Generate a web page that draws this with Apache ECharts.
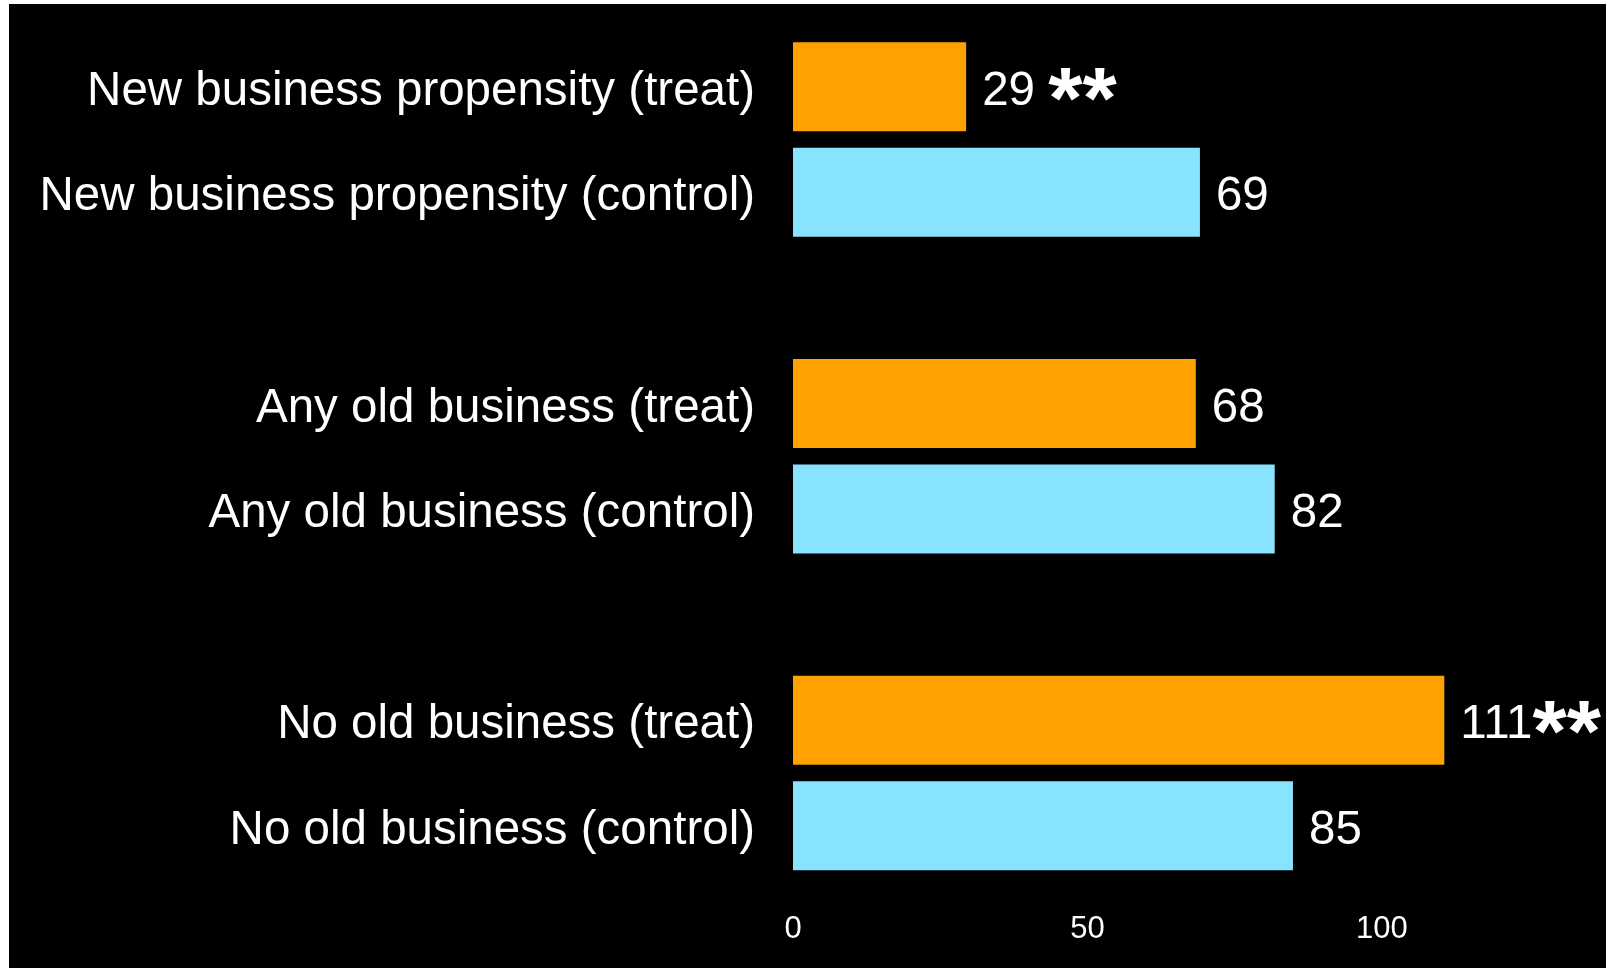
<!DOCTYPE html>
<html>
<head>
<meta charset="utf-8">
<script src="https://cdn.jsdelivr.net/npm/echarts@6/dist/echarts.min.js"></script>
<style>
  html, body { margin: 0; padding: 0; background: #ffffff; width: 1606px; height: 968px; overflow: hidden; }
  #chart { position: absolute; left: 9px; top: 4px; width: 1597px; height: 964px; }
</style>
</head>
<body>
<div id="chart"></div>
<script>
// ---- data ----
const groups = ['New business propensity', 'Any old business', 'No old business'];
const treatValues = [29.4, 68.4, 110.6];
const controlValues = [69.1, 81.8, 84.9];
const treatSep = [' ', '', ''];
const treatStars = ['**', '', '**'];
const controlStars = ['', '', ''];
const tickValues = [0, 50, 100];

// ---- build rows (top to bottom) ----
const categories = [];
const treatData = [];
const controlData = [];
const starsByRow = [];
const sepByRow = [];
groups.forEach((g, i) => {
  categories.push(g + ' (treat)');
  treatData.push(treatValues[i]); controlData.push('-');
  starsByRow.push(treatStars[i]); sepByRow.push(treatSep[i]);
  categories.push(g + ' (control)');
  treatData.push('-'); controlData.push(controlValues[i]);
  starsByRow.push(controlStars[i]); sepByRow.push('');
  if (i < groups.length - 1) {
    categories.push(' '.repeat(i + 1));
    treatData.push('-'); controlData.push('-');
    starsByRow.push(''); sepByRow.push('');
  }
});

const FONT = '"Liberation Sans", Arial, Helvetica, sans-serif';

const labelOpt = {
  show: true,
  position: 'right',
  distance: 16,
  padding: [10, 0, 0, 0],
  formatter: p => {
    const s = starsByRow[p.dataIndex];
    return '{v|' + Math.round(p.value) + sepByRow[p.dataIndex] + '}' + (s ? '{s|' + s + '}' : '');
  },
  rich: {
    v: { fontSize: 47.5, color: '#ffffff', fontFamily: FONT },
    s: { fontSize: 88, fontWeight: 'bold', color: '#ffffff', fontFamily: FONT, padding: [24, 0, 0, 0] }
  }
};

const chart = echarts.init(document.getElementById('chart'), null, { renderer: 'canvas' });
chart.setOption({
  backgroundColor: '#000000',
  animation: false,
  grid: { left: 784, right: 18, top: 30, bottom: 89.5, containLabel: false },
  xAxis: {
    type: 'value',
    min: 0,
    max: 135,
    interval: 50,
    axisLine: { show: false },
    axisTick: { show: false },
    splitLine: { show: false },
    axisLabel: {
      color: '#ffffff',
      fontSize: 31,
      fontFamily: FONT,
      margin: 35,
      customValues: tickValues
    }
  },
  yAxis: {
    type: 'category',
    inverse: true,
    data: categories,
    axisLine: { show: false },
    axisTick: { show: false },
    splitLine: { show: false },
    axisLabel: {
      color: '#ffffff',
      fontSize: 47.5,
      fontFamily: FONT,
      margin: 38,
      formatter: v => (v.trim() ? '{c|' + v + '}' : ''),
      rich: {
        c: { fontSize: 47.5, color: '#ffffff', fontFamily: FONT, padding: [10, 0, 0, 0] }
      }
    }
  },
  series: [
    {
      name: 'treat', type: 'bar', stack: 'all', data: treatData,
      barWidth: 89,
      itemStyle: { color: '#FFA100' },
      label: labelOpt
    },
    {
      name: 'control', type: 'bar', stack: 'all', data: controlData,
      barWidth: 89,
      itemStyle: { color: '#88E4FE' },
      label: labelOpt
    }
  ]
});
</script>
</body>
</html>
